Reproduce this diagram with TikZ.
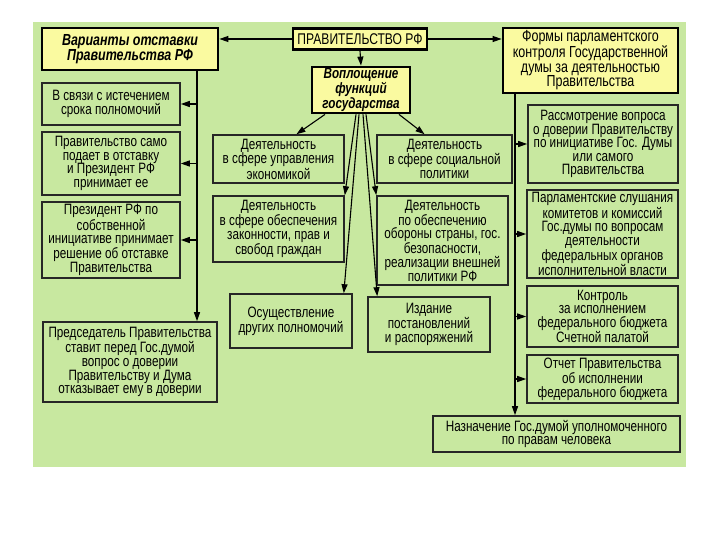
\documentclass[tikz,border=0pt]{standalone}
\usepackage{fontspec}
\setmainfont{Liberation Sans}[FakeStretch=0.78]
\usetikzlibrary{arrows.meta,calc}
\definecolor{bggreen}{RGB}{200,232,160}
\definecolor{hyellow}{RGB}{250,250,160}
\begin{document}
\begin{tikzpicture}[x=1pt,y=1pt,
  gbox/.style={draw=black!85,line width=1.6pt,fill=bggreen,align=center,inner sep=0pt,
    font=\fontsize{15}{13.6}\selectfont},
  ybox/.style={draw=black,line width=2.8pt,fill=hyellow,align=center,inner sep=0pt,
    font=\fontsize{15.5}{14.5}\selectfont},
  arr/.style={line width=1.1pt,-{Triangle[length=9pt,width=6pt]}},
  ln/.style={line width=1pt}]
\useasboundingbox (0,0) rectangle (720,-540);
\fill[white] (0,0) rectangle (720,-540);
\fill[bggreen] (33,-22) rectangle (686,-467);
% header boxes
\node[ybox,minimum width=176,minimum height=42,font=\fontsize{16}{14.5}\selectfont\bfseries\itshape] (var) at (130,-49) {Варианты отставки\\Правительства РФ};
\node[ybox,minimum width=134,minimum height=21] (gov) at (360,-39) {ПРАВИТЕЛЬСТВО РФ};
\node[ybox,minimum width=98,minimum height=46,font=\fontsize{15}{13}\selectfont\bfseries\itshape] (vop) at (361,-90) {Воплощение\\функций\\государства};
\node[ybox,minimum width=175,minimum height=65,font=\fontsize{16}{14.5}\selectfont] (forms) at (590.5,-60.5) {Формы парламентского\\контроля Государственной\\думы за деятельностью\\Правительства};
% left column
\node[gbox,minimum width=138,minimum height=42] (L1) at (111,-104) {В связи с истечением\\срока полномочий};
\node[gbox,minimum width=138,minimum height=63] (L2) at (111,-163.5) {Правительство само\\подает в отставку\\и Президент РФ\\принимает ее};
\node[gbox,minimum width=138,minimum height=76] (L3) at (111,-240) {Президент РФ по\\собственной\\инициативе принимает\\решение об отставке\\Правительства};
\node[gbox,minimum width=174,minimum height=80] (L4) at (130,-362) {Председатель Правительства\\ставит перед Гос.думой\\вопрос о доверии\\Правительству и Дума\\отказывает ему в доверии};
% center
\node[gbox,minimum width=131,minimum height=48] (C1) at (278.5,-159) {Деятельность\\в сфере управления\\экономикой};
\node[gbox,minimum width=135,minimum height=48] (C2) at (444.5,-159) {Деятельность\\в сфере социальной\\политики};
\node[gbox,minimum width=131,minimum height=66] (C3) at (278.5,-229) {Деятельность\\в сфере обеспечения\\законности, прав и\\свобод граждан};
\node[gbox,minimum width=131,minimum height=89] (C4) at (442.5,-240.5) {Деятельность\\по обеспечению\\обороны страны, гос.\\безопасности,\\реализации внешней\\политики РФ};
\node[gbox,minimum width=122,minimum height=54] (C5) at (291,-321) {Осуществление\\других полномочий};
\node[gbox,minimum width=122,minimum height=55] (C6) at (429,-324.5) {Издание\\постановлений\\и распоряжений};
% right column
\node[gbox,minimum width=150,minimum height=78] (R1) at (603,-144) {Рассмотрение вопроса\\о доверии Правительству\\по инициативе Гос. Думы\\или самого\\Правительства};
\node[gbox,minimum width=151,minimum height=88] (R2) at (602.5,-234) {Парламентские слушания\\комитетов и комиссий\\Гос.думы по вопросам\\деятельности\\федеральных органов\\исполнительной власти};
\node[gbox,minimum width=151,minimum height=61] (R3) at (602.5,-316.5) {Контроль\\за исполнением\\федерального бюджета\\Счетной палатой};
\node[gbox,minimum width=151,minimum height=48] (R4) at (602.5,-379) {Отчет Правительства\\об исполнении\\федерального бюджета};
\node[gbox,minimum width=247,minimum height=36] (B) at (556.5,-434) {Назначение Гос.думой уполномоченного\\по правам человека};
% connectors from government
\draw[arr] (gov.west) -- (gov.west -| var.east);
\draw[arr] (gov.east) -- (gov.east -| forms.west);
\draw[arr] (gov.south) -- (vop.north);
% left vertical
\coordinate (lv) at (197,0);
\draw[arr] (var.south -| lv) -- (L4.north -| lv);
\draw[arr] (lv |- L1.east) -- (L1.east);
\draw[arr] (lv |- L2.east) -- (L2.east);
\draw[arr] (lv |- L3.east) -- (L3.east);
% right vertical
\coordinate (rv) at (515,0);
\draw[arr] (forms.south -| rv) -- (B.north -| rv);
\draw[arr] (rv |- R1.west) -- (R1.west);
\draw[arr] (rv |- R2.west) -- (R2.west);
\draw[arr] (rv |- R3.west) -- (R3.west);
\draw[arr] (rv |- R4.west) -- (R4.west);
% center fan
\draw[arr] ($(vop.south)+(-36,0)$) -- ($(C1.north)+(18,0)$);
\draw[arr] ($(vop.south)+(38,0)$) -- ($(C2.north)+(-20,0)$);
\draw[arr] ($(vop.south)+(-5,0)$) -- (C3.north east);
\draw[arr] ($(vop.south)+(-2,0)$) -- ($(C5.north east)+(-9,0)$);
\draw[arr] ($(vop.south)+(5,0)$) -- (C4.north west);
\draw[arr] ($(vop.south)+(2,0)$) -- ($(C6.north west)+(10,0)$);
\end{tikzpicture}
\end{document}
